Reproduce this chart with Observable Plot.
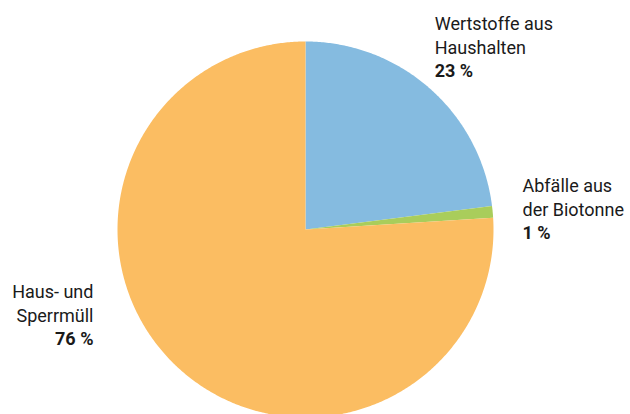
<!DOCTYPE html>
<html>
<head>
<meta charset="utf-8">
<script src="https://cdn.jsdelivr.net/npm/d3@7"></script>
<script src="https://cdn.jsdelivr.net/npm/@observablehq/plot@0.6"></script>
<style>
  html, body { margin: 0; padding: 0; background: #fff; }
  svg { display: block; }
</style>
</head>
<body>
<div id="chart"></div>
<script>
// Data
const categories = ["Wertstoffe aus Haushalten", "Abfälle aus der Biotonne", "Haus- und Sperrmüll"];
const labelLines = ["Wertstoffe aus\nHaushalten", "Abfälle aus\nder Biotonne", "Haus- und\nSperrmüll"];
const shares = [23, 1, 76];
const percentLabels = ["23 %", "1 %", "76 %"];
const colors = ["#85bbe0", "#a9cd5b", "#fbbd62"];

// Build slice polygons (unit circle, y up) from d3.pie angles
const arcs = d3.pie().sort(null).startAngle(0).endAngle(2 * Math.PI)(shares);
const polys = [];
arcs.forEach((a, i) => {
  const name = categories[i];
  polys.push({name, x: 0, y: 0, i});
  const steps = Math.max(2, Math.ceil((a.endAngle - a.startAngle) / (Math.PI / 360)));
  for (let k = 0; k <= steps; k++) {
    const t = a.startAngle + (a.endAngle - a.startAngle) * k / steps;
    polys.push({name, x: Math.sin(t), y: Math.cos(t), i});
  }
});
const anchors = arcs.map((a, i) => {
  const m = (a.startAngle + a.endAngle) / 2;
  return {name: categories[i], label: labelLines[i], pct: percentLabels[i], x: 1.2 * Math.sin(m), y: 1.2 * Math.cos(m)};
});

const font = "Roboto, 'Liberation Sans', sans-serif";
const fs = 18, lh = 24.5;
const labelOpts = [
  {dx: -20, dy: -42.6, textAnchor: "start"},
  {dx: -7.6, dy: -28.6, textAnchor: "start"},
  {dx: -57.6, dy: -108.3, textAnchor: "end"}
];
const labelMarks = [];
anchors.forEach((d, i) => {
  const o = labelOpts[i];
  labelMarks.push(Plot.text([d], {x: "x", y: "y", text: "label", dx: o.dx, dy: o.dy - 5.5, textAnchor: o.textAnchor,
    lineAnchor: "top", lineHeight: lh / fs, fontSize: fs, fontFamily: font, fill: "#1a1a1a"}));
  labelMarks.push(Plot.text([d], {x: "x", y: "y", text: "pct", dx: o.dx, dy: o.dy + 2 * lh - 2.5, textAnchor: o.textAnchor,
    lineAnchor: "top", fontSize: fs, fontWeight: "bold", fontFamily: font, fill: "#1a1a1a"}));
});

const chart = Plot.plot({
  width: 630,
  height: 414,
  margin: 0,
  x: {domain: [-1, 1], range: [117, 493], axis: null},
  y: {domain: [-1, 1], range: [417, 41], axis: null},
  color: {domain: categories, range: colors},
  style: {background: "#fff", fontFamily: font},
  marks: [
    Plot.line(polys, {x: "x", y: "y", z: "name", fill: "name", stroke: null, curve: "linear-closed"}),
    ...labelMarks
  ]
});
document.getElementById("chart").appendChild(chart);
</script>
</body>
</html>
